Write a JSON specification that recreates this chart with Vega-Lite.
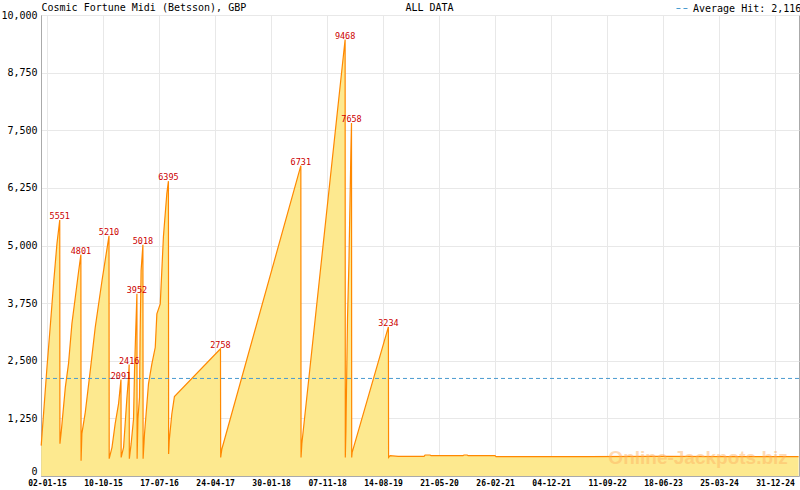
{
  "$schema": "https://vega.github.io/schema/vega-lite/v6.json",
  "autosize": {"type": "none"},
  "padding": {"left": 41, "top": 15, "right": 1, "bottom": 14},
  "width": 758,
  "height": 461,
  "background": "white",
  "config": {
    "font": "DejaVu Sans Mono",
    "view": {"stroke": "#aaaaaa"},
    "axis": {
      "domainColor": "#aaaaaa",
      "gridColor": "#e8e8e8",
      "tickColor": "#aaaaaa",
      "labelColor": "#000000",
      "labelFont": "DejaVu Sans Mono",
      "titleFont": "DejaVu Sans Mono",
      "titleColor": "#000000",
      "titleFontWeight": "normal",
      "titleFontSize": 10
    }
  },
  "datasets": {
    "jackpot": [
      {"date": "2014-12-04", "value": 658},
      {"date": "2015-01-02", "value": 2358},
      {"date": "2015-01-18", "value": 3226},
      {"date": "2015-02-04", "value": 4175},
      {"date": "2015-02-21", "value": 5043},
      {"date": "2015-03-07", "value": 5551},
      {"date": "2015-03-08", "value": 701},
      {"date": "2015-03-15", "value": 983},
      {"date": "2015-04-04", "value": 1923},
      {"date": "2015-04-20", "value": 2438},
      {"date": "2015-05-07", "value": 3306},
      {"date": "2015-05-24", "value": 3877},
      {"date": "2015-06-09", "value": 4420},
      {"date": "2015-06-21", "value": 4801},
      {"date": "2015-06-22", "value": 332},
      {"date": "2015-06-26", "value": 918},
      {"date": "2015-07-13", "value": 1381},
      {"date": "2015-08-07", "value": 2286},
      {"date": "2015-09-01", "value": 3226},
      {"date": "2015-10-05", "value": 4240},
      {"date": "2015-11-09", "value": 5210},
      {"date": "2015-11-10", "value": 376},
      {"date": "2015-11-24", "value": 621},
      {"date": "2015-12-10", "value": 1135},
      {"date": "2015-12-27", "value": 1570},
      {"date": "2016-01-08", "value": 2091},
      {"date": "2016-01-09", "value": 404},
      {"date": "2016-01-21", "value": 621},
      {"date": "2016-01-29", "value": 1135},
      {"date": "2016-02-07", "value": 1706},
      {"date": "2016-02-15", "value": 2141},
      {"date": "2016-02-18", "value": 2416},
      {"date": "2016-02-19", "value": 376},
      {"date": "2016-02-28", "value": 701},
      {"date": "2016-03-11", "value": 1237},
      {"date": "2016-03-16", "value": 2286},
      {"date": "2016-03-21", "value": 3009},
      {"date": "2016-03-28", "value": 3952},
      {"date": "2016-03-29", "value": 376},
      {"date": "2016-04-02", "value": 1237},
      {"date": "2016-04-10", "value": 1706},
      {"date": "2016-04-13", "value": 3083},
      {"date": "2016-04-18", "value": 4457},
      {"date": "2016-04-27", "value": 5018},
      {"date": "2016-04-28", "value": 376},
      {"date": "2016-05-05", "value": 912},
      {"date": "2016-05-25", "value": 1997},
      {"date": "2016-06-11", "value": 2432},
      {"date": "2016-06-28", "value": 2792},
      {"date": "2016-07-06", "value": 3517},
      {"date": "2016-07-23", "value": 3734},
      {"date": "2016-08-08", "value": 5200},
      {"date": "2016-08-25", "value": 6129},
      {"date": "2016-09-02", "value": 6395},
      {"date": "2016-09-03", "value": 478},
      {"date": "2016-09-06", "value": 766},
      {"date": "2016-09-19", "value": 1346},
      {"date": "2016-10-02", "value": 1722},
      {"date": "2017-05-21", "value": 2758},
      {"date": "2017-05-22", "value": 404},
      {"date": "2017-05-28", "value": 586},
      {"date": "2018-06-28", "value": 6731},
      {"date": "2018-06-29", "value": 404},
      {"date": "2018-07-03", "value": 701},
      {"date": "2019-02-05", "value": 9468},
      {"date": "2019-02-06", "value": 404},
      {"date": "2019-02-09", "value": 983},
      {"date": "2019-02-13", "value": 2221},
      {"date": "2019-02-17", "value": 3415},
      {"date": "2019-02-24", "value": 4609},
      {"date": "2019-03-01", "value": 5831},
      {"date": "2019-03-06", "value": 7062},
      {"date": "2019-03-09", "value": 7658},
      {"date": "2019-03-10", "value": 404},
      {"date": "2019-03-12", "value": 506},
      {"date": "2019-09-10", "value": 3234},
      {"date": "2019-09-11", "value": 404},
      {"date": "2019-09-19", "value": 441},
      {"date": "2019-10-29", "value": 425},
      {"date": "2020-03-07", "value": 425},
      {"date": "2020-03-12", "value": 456},
      {"date": "2020-04-06", "value": 456},
      {"date": "2020-04-11", "value": 441},
      {"date": "2020-09-18", "value": 441},
      {"date": "2020-09-23", "value": 456},
      {"date": "2020-10-09", "value": 456},
      {"date": "2020-10-14", "value": 441},
      {"date": "2021-02-26", "value": 441},
      {"date": "2021-03-02", "value": 422},
      {"date": "2022-06-01", "value": 422},
      {"date": "2023-06-01", "value": 425},
      {"date": "2024-06-01", "value": 422},
      {"date": "2025-04-28", "value": 422}
    ],
    "peaks": [
      {"date": "2015-03-07", "value": 5551},
      {"date": "2015-06-21", "value": 4801},
      {"date": "2015-11-09", "value": 5210},
      {"date": "2016-01-08", "value": 2091},
      {"date": "2016-02-18", "value": 2416},
      {"date": "2016-03-28", "value": 3952},
      {"date": "2016-04-27", "value": 5018},
      {"date": "2016-09-02", "value": 6395},
      {"date": "2017-05-21", "value": 2758},
      {"date": "2018-06-28", "value": 6731},
      {"date": "2019-02-05", "value": 9468},
      {"date": "2019-03-09", "value": 7658},
      {"date": "2019-09-10", "value": 3234}
    ],
    "average": [
      {"avg": 2116, "label": "Average Hit: 2,116"}
    ],
    "watermark": [
      {"date": "2023-12-11", "value": 397, "text": "Online-Jackpots.biz"}
    ]
  },
  "layer": [
    {
      "data": {"name": "jackpot"},
      "mark": {"type": "area", "color": "#fde98f", "opacity": 1},
      "encoding": {
        "x": {
          "field": "date", "type": "temporal",
          "scale": {"type": "utc", "domain": [{"year": 2014, "month": 12, "date": 3, "utc": true}, {"year": 2025, "month": 4, "date": 30, "utc": true}]},
          "axis": {
            "orient": "bottom",
            "title": null,
            "values": [
              {"year": 2015, "month": 1, "date": 2, "utc": true},
              {"year": 2015, "month": 10, "date": 10, "utc": true},
              {"year": 2016, "month": 7, "date": 17, "utc": true},
              {"year": 2017, "month": 4, "date": 24, "utc": true},
              {"year": 2018, "month": 1, "date": 30, "utc": true},
              {"year": 2018, "month": 11, "date": 7, "utc": true},
              {"year": 2019, "month": 8, "date": 14, "utc": true},
              {"year": 2020, "month": 5, "date": 21, "utc": true},
              {"year": 2021, "month": 2, "date": 26, "utc": true},
              {"year": 2021, "month": 12, "date": 4, "utc": true},
              {"year": 2022, "month": 9, "date": 11, "utc": true},
              {"year": 2023, "month": 6, "date": 18, "utc": true},
              {"year": 2024, "month": 3, "date": 25, "utc": true},
              {"year": 2024, "month": 12, "date": 31, "utc": true}
            ],
            "format": "%d-%m-%y",
            "labelFontSize": 8,
            "labelFontWeight": "bold",
            "labelOverlap": false,
            "labelFlush": false,
            "grid": true,
            "tickSize": -7,
            "labelPadding": 10
          }
        },
        "y": {
          "field": "value", "type": "quantitative",
          "scale": {"domain": [0, 10000], "nice": false},
          "axis": {
            "title": null,
            "values": [0, 1250, 2500, 3750, 5000, 6250, 7500, 8750, 10000],
            "format": ",d",
            "labelFontSize": 10,
            "labelBaseline": {"condition": {"test": "datum.value === 0", "value": "bottom"}, "value": "middle"},
            "ticks": false,
            "labelPadding": 4,
            "grid": true
          }
        }
      }
    },
    {
      "data": {"name": "jackpot"},
      "mark": {"type": "line", "color": "#ff8800", "strokeWidth": 1.2},
      "encoding": {
        "x": {
          "field": "date", "type": "temporal",
          "scale": {"type": "utc", "domain": [{"year": 2014, "month": 12, "date": 3, "utc": true}, {"year": 2025, "month": 4, "date": 30, "utc": true}]},
          "axis": {
            "orient": "bottom",
            "title": null,
            "values": {"expr": "sequence(1420156800000, 1746057600000, 3468342857.14)"},
            "labels": false,
            "grid": false,
            "domain": false,
            "tickSize": -3
          }
        },
        "y": {"field": "value", "type": "quantitative", "scale": {"domain": [0, 10000], "nice": false}, "axis": null}
      }
    },
    {
      "data": {"name": "average"},
      "mark": {"type": "rule", "strokeDash": [4, 3], "strokeWidth": 1},
      "encoding": {
        "y": {"field": "avg", "type": "quantitative", "scale": {"domain": [0, 10000], "nice": false}, "axis": null},
        "color": {
          "field": "label", "type": "nominal",
          "scale": {"range": ["#4a9bd0"]},
          "legend": {
            "title": null,
            "orient": "none",
            "legendX": 635,
            "legendY": -13,
            "padding": 0,
            "symbolType": "stroke",
            "symbolDash": [4, 3],
            "symbolStrokeWidth": 1,
            "symbolSize": 144,
            "labelFont": "DejaVu Sans Mono",
            "labelFontSize": 10,
            "labelColor": "#000000",
            "labelOffset": 4
          }
        }
      }
    },
    {
      "data": {"name": "peaks"},
      "mark": {"type": "text", "color": "#cc0000", "fontSize": 8.5, "font": "DejaVu Sans Mono", "baseline": "alphabetic", "dy": -1},
      "encoding": {
        "x": {
          "field": "date", "type": "temporal",
          "scale": {"type": "utc", "domain": [{"year": 2014, "month": 12, "date": 3, "utc": true}, {"year": 2025, "month": 4, "date": 30, "utc": true}]},
          "axis": {
            "orient": "top",
            "title": "Cosmic Fortune Midi (Betsson), GBP",
            "titleX": 0,
            "titleY": -5,
            "titleAlign": "left",
            "titleBaseline": "alphabetic",
            "labels": false,
            "ticks": false,
            "domain": false,
            "grid": false
          }
        },
        "y": {"field": "value", "type": "quantitative", "scale": {"domain": [0, 10000], "nice": false}, "axis": null},
        "text": {"field": "value", "type": "quantitative", "format": "d"}
      }
    },
    {
      "data": {"name": "watermark"},
      "mark": {"type": "text", "color": "#ffb060", "opacity": 0.45, "fontSize": 19, "font": "Liberation Sans", "fontWeight": "bold", "baseline": "middle"},
      "encoding": {
        "x": {
          "field": "date", "type": "temporal",
          "scale": {"type": "utc", "domain": [{"year": 2014, "month": 12, "date": 3, "utc": true}, {"year": 2025, "month": 4, "date": 30, "utc": true}]},
          "axis": {
            "orient": "top",
            "title": "ALL DATA",
            "titleX": 388,
            "titleY": -5,
            "titleAlign": "center",
            "titleBaseline": "alphabetic",
            "labels": false,
            "ticks": false,
            "domain": false,
            "grid": false
          }
        },
        "y": {"field": "value", "type": "quantitative", "scale": {"domain": [0, 10000], "nice": false}, "axis": null},
        "text": {"field": "text", "type": "nominal"}
      }
    }
  ],
  "resolve": {"axis": {"x": "independent", "y": "independent"}}
}
